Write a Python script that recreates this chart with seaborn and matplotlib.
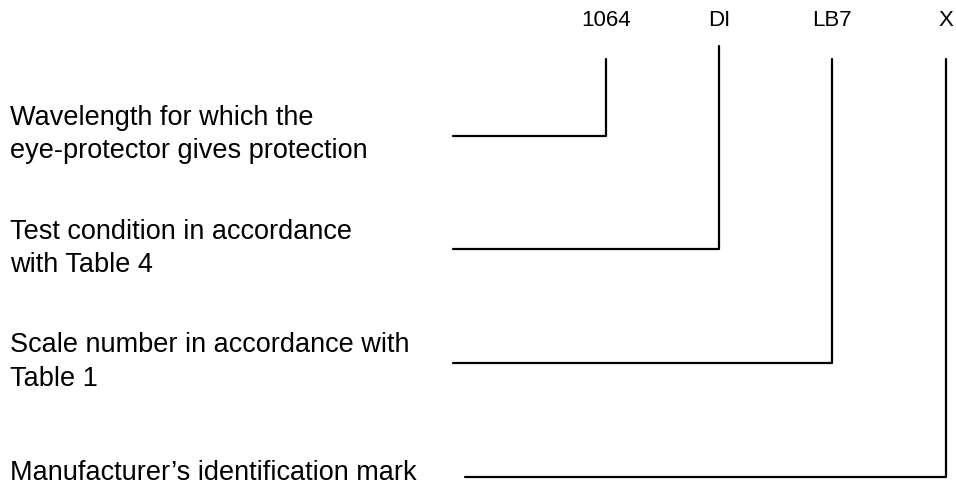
import matplotlib
matplotlib.use("Agg")
import matplotlib.pyplot as plt
import seaborn as sns
import pandas as pd

# Marking elements (top row) and their descriptions (left column)
codes = ["1064", "DI", "LB7", "X"]
descriptions = [
    "Wavelength for which the\neye-protector gives protection",
    "Test condition in accordance\nwith Table 4",
    "Scale number in accordance with\nTable 1",
    "Manufacturer\u2019s identification mark",
]
# connector geometry (pixel coordinates of the diagram)
code_x = [605.7, 719, 832, 945.7]
connector_y = [135.7, 249.3, 362.7, 477]
connector_top = [59, 46, 59, 59]
connector_left = [453, 453, 453, 465]

sns.set_theme(style="white")
plt.rcParams["font.family"] = ["Liberation Sans", "DejaVu Sans"]

rows = []
for i in range(len(codes)):
    rows.append({"id": i, "order": 0, "x": connector_left[i], "y": connector_y[i]})
    rows.append({"id": i, "order": 1, "x": code_x[i], "y": connector_y[i]})
    rows.append({"id": i, "order": 2, "x": code_x[i], "y": connector_top[i]})
df = pd.DataFrame(rows)

fig = plt.figure(figsize=(9.56, 4.86), dpi=100)
ax = fig.add_axes([0, 0, 1, 1])
sns.lineplot(data=df, x="x", y="y", units="id", estimator=None, sort=False,
             color="black", linewidth=1.6, ax=ax, legend=False)
ax.set_xlim(0, 956)
ax.set_ylim(486, 0)
ax.axis("off")

for c, x in zip(codes, code_x):
    ax.text(x, 21, c, ha="center", va="center", fontsize=16, color="black")

for i, (d, y) in enumerate(zip(descriptions, connector_y)):
    if "\n" in d:
        ax.text(10, y - 1, d, ha="left", va="center", fontsize=19.5,
                color="black", linespacing=1.38)
    else:
        ax.text(10, y + 3, d, ha="left", va="baseline", fontsize=19.5,
                color="black")

fig.savefig("out.png", dpi=100, facecolor="white")
